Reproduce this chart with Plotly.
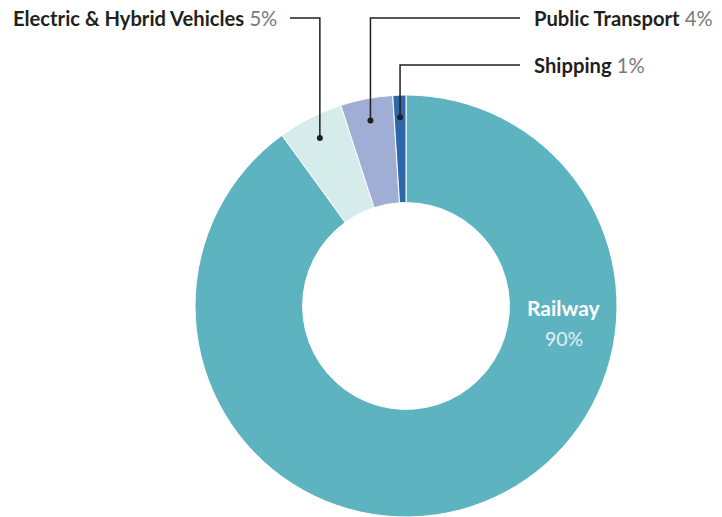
import math
import plotly.graph_objects as go

categories = ["Railway", "Electric & Hybrid Vehicles", "Public Transport", "Shipping"]
values = [90, 5, 4, 1]
colors = ["#5eb3c0", "#d6ecea", "#a0aed5", "#2e68a8"]

W, H = 722, 517
# pie placement (pixels): centre and outer radius
CX, CY, R = 406, 307, 212
HOLE = 0.49
FONT = "Lato"

fig = go.Figure(go.Pie(
    labels=categories, values=values, sort=False, direction="clockwise", rotation=0,
    hole=HOLE, marker=dict(colors=colors, line=dict(color="white", width=1)),
    textinfo="none", hoverinfo="label+percent", showlegend=False,
    # top of domain at CY-R; radius follows domain height (pie slightly cut at bottom)
    domain=dict(x=[(CX - R - 1) / W, (CX + R + 1) / W], y=[0, (H - (CY - R)) / H]),
))

total = sum(values)
cum = 0
angles = []
for v in values:
    angles.append(360 * (cum + v / 2) / total)
    cum += v

def px(x):
    return x / W

def py(y):
    return 1 - y / H

shapes = []
annotations = []
r_dot = 0.895 * R

# label settings (layout): (label y px, horizontal line end x px, side)
label_layout = {
    1: (18, 290, "left"),
    2: (18, 520, "right"),
    3: (65, 520, "right"),
}
for i, (ly, lx, side) in label_layout.items():
    th = math.radians(angles[i])
    dx = CX + r_dot * math.sin(th)
    dy = CY - r_dot * math.cos(th)
    shapes.append(dict(type="path", xref="paper", yref="paper",
                       path=f"M {px(lx)} {py(ly)} L {px(dx)} {py(ly)} L {px(dx)} {py(dy)}",
                       line=dict(color="#231f20", width=1.5)))
    shapes.append(dict(type="circle", xref="paper", yref="paper",
                       x0=px(dx - 3), x1=px(dx + 3), y0=py(dy + 3), y1=py(dy - 3),
                       fillcolor="#231f20", line=dict(width=0)))
    pct = f"{round(100 * values[i] / total)}%"
    txt = f"<b>{categories[i]}</b> <span style='color:#7a7a7a'>{pct}</span>"
    if side == "left":
        annotations.append(dict(x=px(lx - 12), y=py(ly), xref="paper", yref="paper",
                                text=txt, showarrow=False, xanchor="right", yanchor="middle",
                                borderpad=0,
                                font=dict(family=FONT, size=20.2, color="#231f20")))
    else:
        annotations.append(dict(x=px(lx + 13), y=py(ly), xref="paper", yref="paper",
                                text=txt, showarrow=False, xanchor="left", yanchor="middle",
                                borderpad=0,
                                font=dict(family=FONT, size=20.2, color="#231f20")))

# Railway inside label at 3 o'clock, mid-ring
rr = R * (1 + HOLE) / 2
annotations.append(dict(x=px(CX + rr), y=py(CY), xref="paper", yref="paper",
                        text=f"<b>{categories[0]}</b>", showarrow=False,
                        xanchor="center", yanchor="middle",
                        font=dict(family=FONT, size=21, color="white")))
annotations.append(dict(x=px(CX + rr), y=py(CY + 31), xref="paper", yref="paper",
                        text=f"{round(100 * values[0] / total)}%", showarrow=False,
                        xanchor="center", yanchor="middle",
                        font=dict(family=FONT, size=19.5, color="#e2f1f3")))

fig.update_layout(width=W, height=H, margin=dict(l=0, r=0, t=0, b=0),
                  paper_bgcolor="white", plot_bgcolor="white",
                  shapes=shapes, annotations=annotations)

fig.write_html("out.html", config={"displayModeBar": False},
               post_script="document.body.style.margin='0';document.body.style.overflow='hidden';")
